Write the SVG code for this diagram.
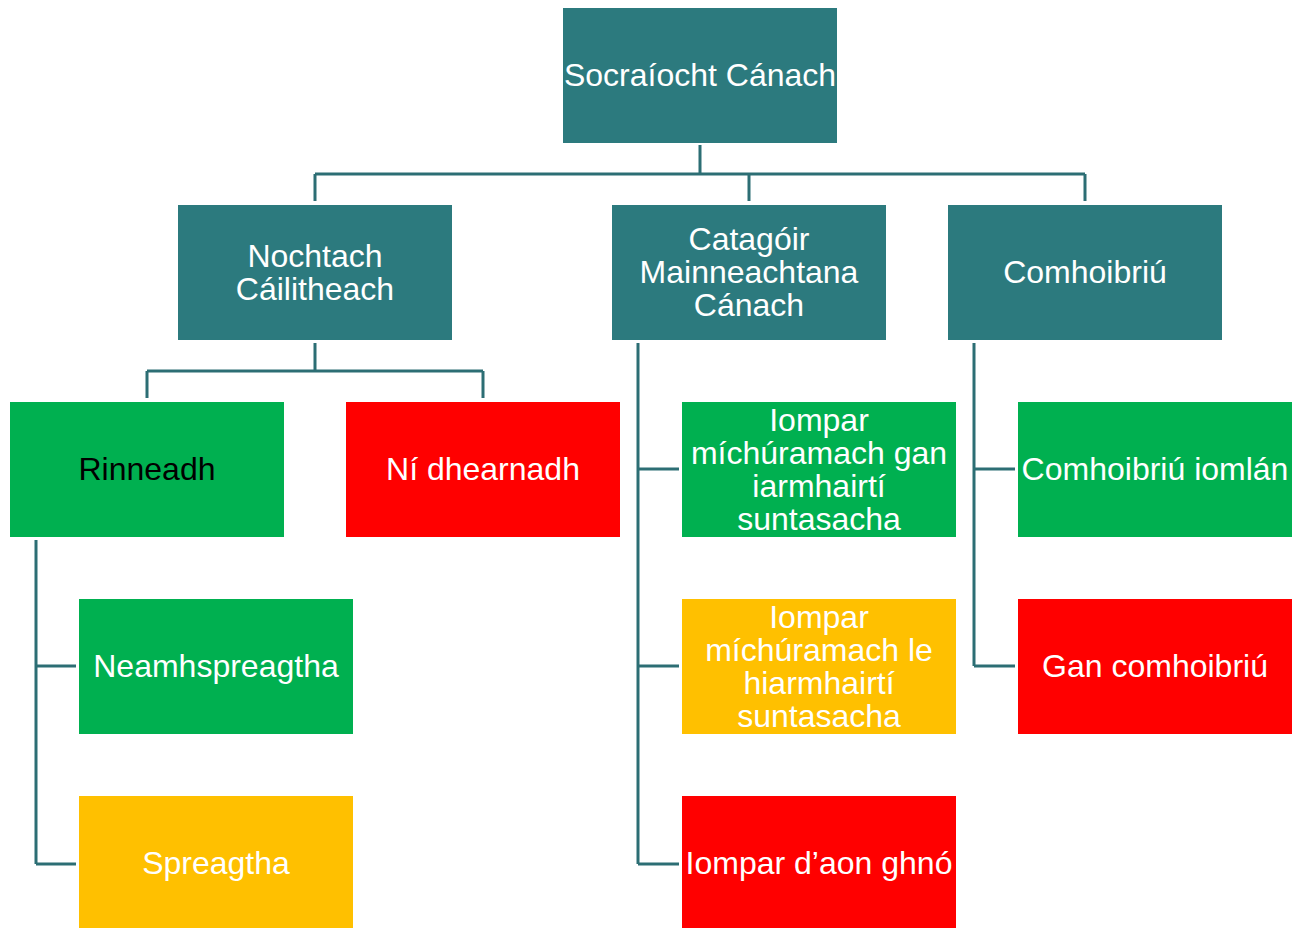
<svg xmlns="http://www.w3.org/2000/svg" width="1292" height="928" viewBox="0 0 1292 928">
<style>
.teal{fill:#2C7A7E}
.green{fill:#00B050}
.red{fill:#FF0000}
.yellow{fill:#FFC000}
text{font-family:"Liberation Sans",Arial,sans-serif;font-size:32px;fill:#FFFFFF;text-anchor:middle}
text.dark{fill:#000000}
.conn{fill:none;stroke:#2C6E74;stroke-width:3}
</style>
<rect width="1292" height="928" fill="#FFFFFF"/>
<g id="connectors" class="conn">
<path d="M700,145 V174 M315,174 H1085 M315,174 V201 M749,174 V201 M1085,174 V201"/>
<path d="M315,343 V371 M147,371 H483 M147,371 V398 M483,371 V398"/>
<path d="M638,343 V864 M638,469 H679 M638,666 H679 M638,864 H679"/>
<path d="M974,343 V666 M974,469 H1015 M974,666 H1015"/>
<path d="M36,540 V864 M36,666 H76 M36,864 H76"/>
</g>
<g id="root"><rect class="teal" x="563" y="8" width="274" height="135"/><text x="700" y="86">Socraíocht Cánach</text></g>
<g id="nochtach"><rect class="teal" x="178" y="205" width="274" height="135"/><text x="315" y="267">Nochtach</text><text x="315" y="300">Cáilitheach</text></g>
<g id="catagoir"><rect class="teal" x="612" y="205" width="274" height="135"/><text x="749" y="250">Catagóir</text><text x="749" y="283">Mainneachtana</text><text x="749" y="316">Cánach</text></g>
<g id="comhoibriu"><rect class="teal" x="948" y="205" width="274" height="135"/><text x="1085" y="283">Comhoibriú</text></g>
<g id="rinneadh"><rect class="green" x="10" y="402" width="274" height="135"/><text class="dark" x="147" y="480">Rinneadh</text></g>
<g id="ni-dhearnadh"><rect class="red" x="346" y="402" width="274" height="135"/><text x="483" y="480">Ní dhearnadh</text></g>
<g id="neamhspreagtha"><rect class="green" x="79" y="599" width="274" height="135"/><text x="216" y="677">Neamhspreagtha</text></g>
<g id="spreagtha"><rect class="yellow" x="79" y="796" width="274" height="135"/><text x="216" y="874">Spreagtha</text></g>
<g id="iompar-gan"><rect class="green" x="682" y="402" width="274" height="135"/><text x="819" y="431">Iompar</text><text x="819" y="464">míchúramach gan</text><text x="819" y="497">iarmhairtí</text><text x="819" y="530">suntasacha</text></g>
<g id="iompar-le"><rect class="yellow" x="682" y="599" width="274" height="135"/><text x="819" y="628">Iompar</text><text x="819" y="661">míchúramach le</text><text x="819" y="694">hiarmhairtí</text><text x="819" y="727">suntasacha</text></g>
<g id="iompar-aon"><rect class="red" x="682" y="796" width="274" height="135"/><text x="819" y="874">Iompar d’aon ghnó</text></g>
<g id="comhoibriu-iomlan"><rect class="green" x="1018" y="402" width="274" height="135"/><text x="1155" y="480">Comhoibriú iomlán</text></g>
<g id="gan-comhoibriu"><rect class="red" x="1018" y="599" width="274" height="135"/><text x="1155" y="677">Gan comhoibriú</text></g>
</svg>
